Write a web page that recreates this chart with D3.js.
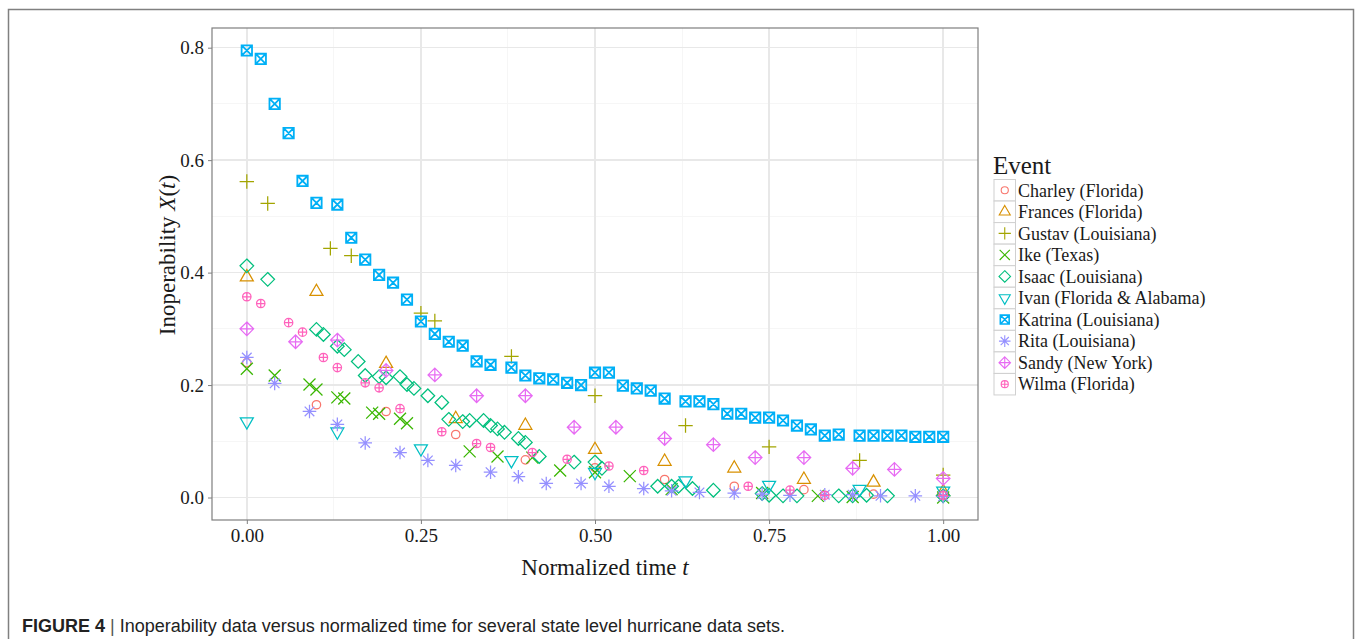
<!DOCTYPE html>
<meta charset="utf-8">
<style>
    body {
        margin: 0;
        background: #fff;
    }

    svg {
        font-family: "Liberation Serif", "Times New Roman", serif;
    }

    .axis text {
        font-family: "Liberation Serif", "Times New Roman", serif;
        font-size: 19px;
        fill: #1a1a1a;
    }

    .axis path {
        display: none;
    }

    .axis line {
        stroke: #7f7f7f;
    }

    .grid line {
        shape-rendering: crispEdges;
    }
</style>

<body>
    <script src="https://d3js.org/d3.v7.min.js"></script>
    <script>
        // event names, marker shapes and colours (ggplot default hue palette)
        var events = ["Charley (Florida)", "Frances (Florida)", "Gustav (Louisiana)", "Ike (Texas)",
            "Isaac (Louisiana)", "Ivan (Florida & Alabama)", "Katrina (Louisiana)", "Rita (Louisiana)",
            "Sandy (New York)", "Wilma (Florida)"];
        var shapes = ["circle", "triangle", "plus", "cross", "diamond", "triangleDown",
            "squareCross", "asterisk", "diamondPlus", "circlePlus"];
        var colors = ["#F8766D", "#D89000", "#A3A500", "#39B600", "#00BF7D",
            "#00BFC4", "#00B0F6", "#9590FF", "#E76BF3", "#FF62BC"];

        // normalized time t and inoperability X(t), one pair per event
        var charleyT = [0, .1, .2, .3, .4, .5, .6, .7, .8, .9, 1.0];
        var charleyX = [.24, .165, .153, .112, .067, .053, .032, .02, .014, .006, .003];

        var francesT = [0, .1, .2, .3, .4, .5, .6, .7, .8, .9, 1.0];
        var francesX = [.392, .366, .238, .14, .128, .085, .064, .052, .032, .027, .01];

        var gustavT = [0, .03, .12, .15, .25, .27, .38, .50, .63, .75, .88, 1.0];
        var gustavX = [.562, .523, .443, .43, .328, .314, .251, .181, .128, .09, .066, .04];

        var ikeT = [0, .04, .09, .10, .13, .14, .18, .19, .22, .23, .32, .36, .41, .45, .50, .55, .61, .74, .82, .87, 1.0];
        var ikeX = [.229, .217, .201, .192, .178, .176, .151, .149, .14, .132, .082, .073, .071, .048, .045, .038, .015, .008, .003, .001, 0];

        var isaacT = [0, .03, .10, .11, .13, .14, .16, .17, .19, .20, .22, .23, .24, .26, .28, .29, .31, .32, .34, .35,
            .36, .37, .39, .40, .42, .47, .50, .51, .59, .61, .62, .64, .67, .74, .75, .77, .79, .85, .87, .89, .92, 1.0];
        var isaacX = [.412, .388, .299, .29, .269, .263, .242, .217, .215, .213, .215, .201, .194, .181, .169, .139, .135, .137, .137, .128,
            .122, .116, .105, .098, .073, .063, .063, .052, .02, .02, .02, .016, .013, .007, .004, .003, .003, .003, .003, .004, .003, .003];

        var ivanT = [0, .13, .25, .38, .50, .63, .75, .88, 1.0];
        var ivanX = [.135, .117, .087, .066, .045, .03, .022, .015, .012];

        var katrinaT = [0, .02, .04, .06, .08, .10, .13, .15, .17, .19, .21, .23, .25, .27, .29, .31, .33, .35,
            .38, .40, .42, .44, .46, .48, .50, .52, .54, .56, .58, .60, .63, .65, .67, .69, .71, .73, .75, .77, .79, .81, .83, .85,
            .88, .90, .92, .94, .96, .98, 1.0];
        var katrinaX = [.795, .78, .70, .648, .563, .524, .521, .462, .423, .396, .382, .352, .313, .291, .277, .27, .242, .236,
            .231, .217, .212, .21, .204, .2, .222, .222, .199, .194, .19, .176, .171, .171, .166, .149, .149, .142, .142, .137, .128, .121, .11, .112,
            .11, .11, .11, .11, .108, .108, .108];

        var ritaT = [0, .04, .09, .13, .17, .22, .26, .30, .35, .39, .43, .48, .52, .57, .61, .65, .70, .74, .78, .83, .87, .91, .96, 1.0];
        var ritaX = [.249, .203, .153, .13, .097, .08, .066, .057, .045, .037, .025, .025, .02, .016, .012, .009, .008, .006, .004, .005, .005, .003, .003, .002];

        var sandyT = [0, .07, .13, .20, .27, .33, .40, .47, .53, .60, .67, .73, .80, .87, .93, 1.0];
        var sandyX = [.30, .277, .28, .226, .218, .181, .181, .125, .125, .105, .094, .071, .071, .052, .05, .034];

        var wilmaT = [0, .02, .06, .08, .11, .13, .17, .19, .22, .28, .33, .35, .41, .46, .52, .57, .72, .78, .83, 1.0];
        var wilmaX = [.357, .345, .311, .294, .249, .231, .204, .195, .158, .117, .096, .089, .08, .068, .056, .048, .02, .013, .004, .004];

        var xTicks = [0, 0.25, 0.5, 0.75, 1];
        var yTicks = [0, 0.2, 0.4, 0.6, 0.8];

        var seriesT = [charleyT, francesT, gustavT, ikeT, isaacT, ivanT, katrinaT, ritaT, sandyT, wilmaT];
        var seriesX = [charleyX, francesX, gustavX, ikeX, isaacX, ivanX, katrinaX, ritaX, sandyX, wilmaX];

        var points = [];
        seriesT.forEach(function(ts, i) {
            ts.forEach(function(t, j) {
                points.push({event: i, t: t, x: seriesX[i][j]});
            });
        });

        var W = 1369, H = 639;
        var panel = {left: 212, right: 978, top: 28, bottom: 520};

        var x = d3.scaleLinear().domain([-0.05, 1.05]).range([panel.left, panel.right]);
        var y = d3.scaleLinear().domain([-0.04, 0.835]).range([panel.bottom, panel.top]);

        // marker outlines, centred on 0,0
        var sizes = {circle: 4.2, triangle: 7.5, plus: 7.2, cross: 6, diamond: 6.8,
            triangleDown: 7.5, squareCross: 5.2, asterisk: 6.8, diamondPlus: 6.8, circlePlus: 4.2};

        function circ(r) {
            return "M" + (-r) + ",0A" + r + "," + r + " 0 1,0 " + r + ",0A" + r + "," + r + " 0 1,0 " + (-r) + ",0Z";
        }

        function shapePath(s, k) {
            var r = sizes[s] * (k || 1), c = r * 0.7071, h = r * 0.866;
            if (s == "cross") c = r;
            var plus = "M" + (-r) + ",0H" + r + "M0," + (-r) + "V" + r;
            var cross = "M" + (-c) + "," + (-c) + "L" + c + "," + c + "M" + c + "," + (-c) + "L" + (-c) + "," + c;
            var dia = "M0," + (-r) + "L" + r + ",0L0," + r + "L" + (-r) + ",0Z";
            switch (s) {
                case "circle": return circ(r);
                case "triangle": return "M0," + (-r) + "L" + h + "," + (r / 2) + "L" + (-h) + "," + (r / 2) + "Z";
                case "triangleDown": return "M0," + r + "L" + h + "," + (-r / 2) + "L" + (-h) + "," + (-r / 2) + "Z";
                case "plus": return plus;
                case "cross": return cross;
                case "diamond": return dia;
                case "squareCross":
                    return "M" + (-r) + "," + (-r) + "H" + r + "V" + r + "H" + (-r) + "Z" +
                        "M" + (-r) + "," + (-r) + "L" + r + "," + r + "M" + r + "," + (-r) + "L" + (-r) + "," + r;
                case "asterisk": return plus + cross;
                case "diamondPlus": return dia + plus;
                case "circlePlus": return circ(r) + plus;
            }
        }

        var svg = d3.select("body").append("svg")
            .attr("width", W)
            .attr("height", H);

        // figure frame (open at the bottom)
        svg.append("rect")
            .attr("x", 8.5).attr("y", 9.5)
            .attr("width", 1345).attr("height", 700)
            .attr("fill", "none")
            .attr("stroke", "#808080")
            .attr("stroke-width", 1.5);

        // grid
        var grid = svg.append("g").attr("class", "grid");
        [0.125, 0.375, 0.625, 0.875].forEach(function(v) {
            grid.append("line").attr("x1", x(v)).attr("x2", x(v))
                .attr("y1", panel.top).attr("y2", panel.bottom)
                .attr("stroke", "#f6f6f6").attr("stroke-width", 1);
        });
        [0.1, 0.3, 0.5, 0.7].forEach(function(v) {
            grid.append("line").attr("y1", y(v)).attr("y2", y(v))
                .attr("x1", panel.left).attr("x2", panel.right)
                .attr("stroke", "#f6f6f6").attr("stroke-width", 1);
        });
        xTicks.forEach(function(v) {
            grid.append("line").attr("x1", x(v)).attr("x2", x(v))
                .attr("y1", panel.top).attr("y2", panel.bottom)
                .attr("stroke", "#e8e8e8").attr("stroke-width", 1.5);
        });
        yTicks.forEach(function(v) {
            grid.append("line").attr("y1", y(v)).attr("y2", y(v))
                .attr("x1", panel.left).attr("x2", panel.right)
                .attr("stroke", "#e8e8e8").attr("stroke-width", 1.5);
        });

        // points
        svg.append("g").selectAll("path")
            .data(points)
            .enter().append("path")
            .attr("transform", function(d) {
                return "translate(" + x(d.t) + "," + y(d.x) + ")";
            })
            .attr("d", function(d) {
                return shapePath(shapes[d.event]);
            })
            .attr("fill", "none")
            .attr("stroke", function(d) {
                return colors[d.event];
            })
            .attr("stroke-width", function(d) {
                return shapes[d.event] == "squareCross" ? 1.8 : 1.25;
            });

        // panel border
        svg.append("rect")
            .attr("x", panel.left).attr("y", panel.top)
            .attr("width", panel.right - panel.left).attr("height", panel.bottom - panel.top)
            .attr("fill", "none")
            .attr("stroke", "#7f7f7f")
            .attr("stroke-width", 1.2);

        // axes
        svg.append("g")
            .attr("class", "axis")
            .attr("transform", "translate(0," + panel.bottom + ")")
            .call(d3.axisBottom(x).tickValues(xTicks).tickFormat(d3.format(".2f")).tickSize(4).tickPadding(5));

        svg.append("g")
            .attr("class", "axis")
            .attr("transform", "translate(" + panel.left + ",0)")
            .call(d3.axisLeft(y).tickValues(yTicks).tickFormat(d3.format(".1f")).tickSize(4).tickPadding(4));

        // axis titles
        var xt = svg.append("text")
            .attr("x", 605).attr("y", 575)
            .attr("text-anchor", "middle")
            .style("font-size", "23px")
            .attr("fill", "#1a1a1a");
        xt.append("tspan").text("Normalized time ");
        xt.append("tspan").style("font-style", "italic").text("t");

        var yt = svg.append("text")
            .attr("transform", "translate(175,255) rotate(-90)")
            .attr("text-anchor", "middle")
            .style("font-size", "23px")
            .attr("fill", "#1a1a1a");
        yt.append("tspan").text("Inoperability ");
        yt.append("tspan").style("font-style", "italic").text("X");
        yt.append("tspan").text("(");
        yt.append("tspan").style("font-style", "italic").text("t");
        yt.append("tspan").text(")");

        // legend
        var legend = svg.append("g").attr("transform", "translate(993,0)");
        legend.append("text")
            .attr("x", 0).attr("y", 174)
            .style("font-size", "25px")
            .attr("fill", "#1a1a1a")
            .text("Event");

        var rows = legend.selectAll(".row")
            .data(events)
            .enter().append("g")
            .attr("class", "row")
            .attr("transform", function(d, i) {
                return "translate(0," + (179.5 + i * 21.55) + ")";
            });

        rows.append("rect")
            .attr("x", 1).attr("y", 0)
            .attr("width", 21.5).attr("height", 21.5)
            .attr("fill", "#fff")
            .attr("stroke", "#d0d0d0")
            .attr("stroke-width", 1);

        rows.append("path")
            .attr("transform", "translate(11.75,10.75)")
            .attr("d", function(d, i) {
                return shapePath(shapes[i], 0.85);
            })
            .attr("fill", "none")
            .attr("stroke", function(d, i) {
                return colors[i];
            })
            .attr("stroke-width", function(d, i) {
                return shapes[i] == "squareCross" ? 1.6 : 1.1;
            });

        rows.append("text")
            .attr("x", 25).attr("y", 17)
            .style("font-size", "18px")
            .attr("fill", "#1a1a1a")
            .text(function(d) {
                return d;
            });

        // caption
        var cap = svg.append("text")
            .attr("x", 22).attr("y", 632)
            .style("font-family", "'Liberation Sans', Arial, sans-serif")
            .style("font-size", "18px")
            .attr("fill", "#222");
        cap.append("tspan").style("font-weight", "bold").text("FIGURE 4");
        cap.append("tspan").attr("fill", "#555").text(" | ");
        cap.append("tspan").text("Inoperability data versus normalized time for several state level hurricane data sets.");
    </script>
</body>
